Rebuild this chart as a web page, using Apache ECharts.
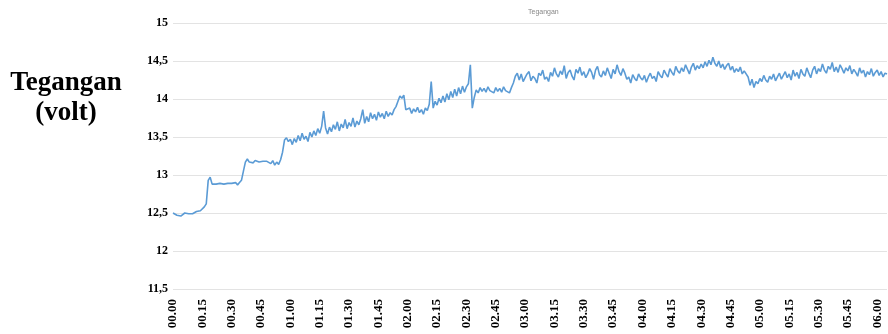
<!DOCTYPE html>
<html>
<head>
<meta charset="utf-8">
<script src="https://cdn.jsdelivr.net/npm/echarts@6/dist/echarts.min.js"></script>
<style>
  html, body { margin: 0; padding: 0; background: #fff; }
  #chart { width: 888px; height: 334px; }
</style>
</head>
<body>
<div id="chart"></div>
<script>
  // tegangan per menit, dipisah per jam
  var jam00 = [
    12.50,12.49,12.47,12.48,12.46,12.48,12.50,12.48,12.49,12.51,12.49,12.50,12.52,12.51,12.53,
    12.55,12.58,12.62,12.93,12.97,12.88,12.90,12.88,12.90,12.89,12.91,12.88,12.90,12.89,12.91,
    12.89,12.88,12.90,12.87,12.90,12.93,13.05,13.17,13.21,13.17,13.18,13.16,13.19,13.18,13.17,
    13.19,13.18,13.16,13.18,13.17,13.15,13.19,13.13,13.17,13.14,13.20,13.30,13.46,13.49,13.44
  ];
  var jam01 = [
    13.47,13.40,13.48,13.43,13.52,13.45,13.55,13.47,13.51,13.44,13.56,13.50,13.58,13.52,13.61,
    13.55,13.64,13.84,13.62,13.54,13.63,13.57,13.66,13.60,13.70,13.58,13.67,13.62,13.73,13.61,
    13.69,13.64,13.75,13.63,13.71,13.66,13.74,13.86,13.68,13.77,13.70,13.82,13.74,13.80,13.72,
    13.83,13.76,13.81,13.74,13.84,13.77,13.82,13.79,13.86,13.90,13.97,14.04,14.01,14.05,13.86
  ];
  var jam02 = [
    13.84,13.88,13.81,13.87,13.83,13.89,13.82,13.86,13.80,13.88,13.85,13.93,14.23,13.88,13.97,
    13.92,14.01,13.95,14.04,13.96,14.07,13.99,14.10,14.02,14.13,14.04,14.15,14.07,14.17,14.09,
    14.16,14.20,14.45,13.88,14.02,14.12,14.08,14.15,14.10,14.14,14.09,14.16,14.11,14.13,14.08,
    14.15,14.10,14.14,14.09,14.16,14.11,14.13,14.08,14.15,14.21,14.30,14.34,14.25,14.33,14.23
  ];
  var jam03 = [
    14.28,14.33,14.36,14.24,14.30,14.27,14.21,14.34,14.31,14.38,14.26,14.29,14.23,14.35,14.30,
    14.41,14.33,14.29,14.37,14.32,14.44,14.27,14.35,14.38,14.30,14.25,14.39,14.34,14.42,14.31,
    14.36,14.28,14.33,14.40,14.35,14.26,14.38,14.43,14.32,14.29,14.37,14.31,14.41,14.34,14.27,
    14.39,14.33,14.45,14.36,14.31,14.40,14.34,14.26,14.29,14.21,14.32,14.27,14.24,14.33,14.28
  ];
  var jam04 = [
    14.25,14.31,14.22,14.29,14.34,14.27,14.30,14.23,14.36,14.31,14.28,14.38,14.33,14.29,14.40,
    14.35,14.31,14.43,14.37,14.34,14.41,14.36,14.45,14.39,14.33,14.42,14.47,14.38,14.44,14.40,
    14.46,14.41,14.49,14.43,14.51,14.45,14.55,14.47,14.43,14.50,14.41,14.46,14.39,14.44,14.47,
    14.38,14.43,14.35,14.40,14.36,14.42,14.33,14.37,14.35,14.29,14.18,14.26,14.15,14.23,14.20
  ];
  var jam05 = [
    14.27,14.23,14.31,14.25,14.22,14.30,14.26,14.33,14.24,14.29,14.34,14.26,14.31,14.36,14.28,
    14.33,14.25,14.38,14.30,14.35,14.27,14.39,14.33,14.30,14.41,14.34,14.28,14.38,14.43,14.33,
    14.40,14.36,14.46,14.38,14.34,14.43,14.39,14.48,14.36,14.42,14.35,14.45,14.40,14.34,14.41,
    14.37,14.44,14.33,14.39,14.35,14.30,14.41,14.34,14.38,14.29,14.36,14.32,14.40,14.30,14.35
  ];
  var jam06 = [14.38,14.31,14.36,14.29,14.34,14.33];

  var tickLabels = ['00.00','00.15','00.30','00.45','01.00','01.15','01.30','01.45',
    '02.00','02.15','02.30','02.45','03.00','03.15','03.30','03.45','04.00','04.15',
    '04.30','04.45','05.00','05.15','05.30','05.45','06.00'];

  var voltage = [].concat(jam00, jam01, jam02, jam03, jam04, jam05, jam06);
  var lineData = voltage.map(function (v, i) { return [i, v]; });

  var myChart = echarts.init(document.getElementById('chart'));
  var serif = '"Liberation Serif", "Times New Roman", serif';
  var option = {
    animation: false,
    backgroundColor: '#fff',
    graphic: [
      { type: 'text', left: 528, top: 9, style: { text: 'Tegangan', fontSize: 7, fill: '#888', fontFamily: 'Arial', textAlign: 'center' } },
      { type: 'text', x: 66, y: 83, style: { text: 'Tegangan', fontSize: 27, fontWeight: 'bold', fill: '#000', fontFamily: serif, textAlign: 'center', textVerticalAlign: 'middle' } },
      { type: 'text', x: 66, y: 113, style: { text: '(volt)', fontSize: 27, fontWeight: 'bold', fill: '#000', fontFamily: serif, textAlign: 'center', textVerticalAlign: 'middle' } }
    ],
    grid: { left: 173, right: 1, top: 23, bottom: 45 },
    xAxis: {
      type: 'value',
      min: 0,
      max: voltage.length - 1,
      interval: 15,
      axisLine: { show: false },
      axisTick: { show: false },
      splitLine: { show: false },
      axisLabel: {
        rotate: 90,
        margin: 10,
        showMaxLabel: false,
        fontSize: 13,
        fontWeight: 'bold',
        fontFamily: serif,
        color: '#000',
        formatter: function (v) { return tickLabels[v / 15] || ''; }
      }
    },
    yAxis: {
      type: 'value',
      min: 11.5,
      max: 15,
      interval: 0.5,
      axisLine: { show: false },
      axisTick: { show: false },
      splitLine: { lineStyle: { color: '#e3e3e3', width: 1 } },
      axisLabel: {
        margin: 5,
        fontSize: 12,
        fontWeight: 'bold',
        fontFamily: serif,
        color: '#000',
        formatter: function (v) { return String(v).replace('.', ','); }
      }
    },
    series: [{
      type: 'line',
      data: lineData,
      symbol: 'none',
      lineStyle: { color: '#5b9bd5', width: 1.6 }
    }]
  };
  myChart.setOption(option);
</script>
</body>
</html>
